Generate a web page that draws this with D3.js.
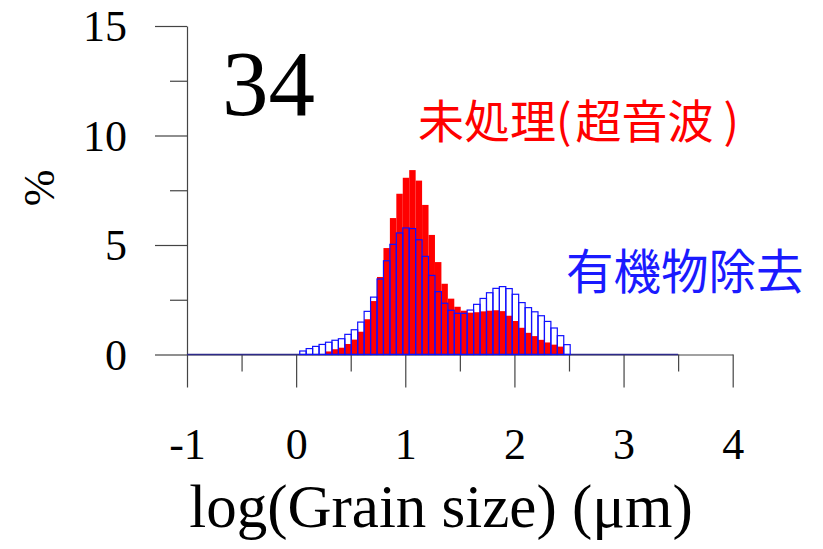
<!DOCTYPE html>
<html>
<head>
<meta charset="utf-8">
<script src="https://cdn.jsdelivr.net/npm/d3@7"></script>
<style>
  body { margin: 0; background: #fff; }
  svg { display: block; }
</style>
</head>
<body>
<svg id="chart" width="823" height="549"></svg>
<script>
// Histogram bins: left edge of each bin in log10(grain size / µm)
const binLeft = [
  0.033, 0.092, 0.151, 0.210, 0.269, 0.328, 0.387, 0.446, 0.505, 0.564,
  0.623, 0.682, 0.741, 0.800, 0.859, 0.918, 0.977, 1.036, 1.095, 1.154,
  1.213, 1.272, 1.331, 1.390, 1.449, 1.508, 1.567, 1.626, 1.685, 1.744,
  1.803, 1.862, 1.921, 1.980, 2.039, 2.098, 2.157, 2.216, 2.275, 2.334,
  2.393, 2.452
];
const binWidth = 0.059;

// 未処理(超音波): volume percent per bin
const untreated = [
  0, 0, 0, 0, 0.14, 0.24, 0.31, 0.48, 0.68, 1.04,
  1.61, 2.44, 3.54, 4.86, 6.23, 7.34, 8.07, 8.42, 7.94, 6.83,
  5.46, 4.22, 3.23, 2.55, 2.18, 2.00, 1.91, 1.93, 1.97, 2.00,
  2.02, 1.98, 1.77, 1.53, 1.22, 0.99, 0.84, 0.67, 0.55, 0.45,
  0.36, 0
];

// 有機物除去: volume percent per bin
const organicRemoved = [
  0.16, 0.27, 0.37, 0.46, 0.56, 0.65, 0.72, 0.92, 1.13, 1.48,
  1.97, 2.62, 3.45, 4.28, 5.03, 5.55, 5.78, 5.75, 5.24, 4.48,
  3.61, 2.87, 2.34, 2.02, 1.88, 1.88, 2.03, 2.29, 2.56, 2.82,
  3.02, 3.10, 3.01, 2.75, 2.37, 2.14, 1.95, 1.77, 1.51, 1.21,
  0.86, 0.45
];

// Full measured size range (empty bins outside the populated ones)
const histRange = [-1, 3.5];

const xTicks = [-1, 0, 1, 2, 3, 4];
const xMinorTicks = [-0.5, 0.5, 1.5, 2.5, 3.5];
const yTicks = [0, 5, 10, 15];
const yMinorTicks = [2.5, 7.5, 12.5];

const sampleLabel = "34";
const untreatedName = ["未処理(", "超音波", ")"];
const removedName = "有機物除去";
const xTitle = "log(Grain size) (\u03BCm)";
const yTitle = "%";

const serif = "'Liberation Serif', 'Times New Roman', Times, serif";
const cjk = "'Noto Sans CJK JP', 'Noto Sans', sans-serif";
const axisColor = "#444";

const svg = d3.select("#chart");

const x = d3.scaleLinear().domain([-1, 4]).range([187, 732.7]);
const y = d3.scaleLinear().domain([0, 15]).range([354.5, 26]);

// ---- axes ----
const xAxis = svg.append("g")
  .attr("transform", `translate(0,${y(0)})`)
  .call(d3.axisBottom(x).tickValues(xTicks).tickSize(33).tickSizeOuter(0)
    .tickPadding(40).tickFormat(d3.format("d")));
svg.append("g")
  .attr("transform", `translate(0,${y(0)})`)
  .call(d3.axisBottom(x).tickValues(xMinorTicks).tickSize(17).tickFormat(""))
  .call(g => g.select(".domain").remove());

const yAxis = svg.append("g")
  .attr("transform", `translate(${x(-1)},0)`)
  .call(d3.axisLeft(y).tickValues(yTicks).tickSize(32).tickSizeOuter(0)
    .tickPadding(28));
svg.append("g")
  .attr("transform", `translate(${x(-1)},0)`)
  .call(d3.axisLeft(y).tickValues(yMinorTicks).tickSize(17).tickFormat(""))
  .call(g => g.select(".domain").remove());

svg.selectAll(".domain, .tick line")
  .attr("stroke", axisColor).attr("stroke-width", 1.2);
svg.selectAll(".tick text")
  .attr("font-family", serif).attr("font-size", 44).attr("fill", "#000");
yAxis.selectAll(".tick text").attr("dy", "0.34em");
xAxis.selectAll(".tick text").text(d => d < 0 ? "-" + Math.abs(d) : d);

// ---- histogram bars ----
const bins = binLeft.map((b, i) => ({
  x0: b, x1: b + binWidth, untreated: untreated[i], removed: organicRemoved[i]
}));

svg.append("g").selectAll("rect")
  .data(bins)
  .join("rect")
  .attr("x", d => x(d.x0))
  .attr("width", d => x(d.x1) - x(d.x0))
  .attr("y", d => y(d.untreated))
  .attr("height", d => y(0) - y(d.untreated))
  .attr("fill", "#ff0000");

// empty bins across the measured range
svg.append("line")
  .attr("x1", x(histRange[0])).attr("x2", x(histRange[1]))
  .attr("y1", y(0)).attr("y2", y(0))
  .attr("stroke", "#2e2a8a").attr("stroke-width", 1.6);

svg.append("g").selectAll("rect")
  .data(bins)
  .join("rect")
  .attr("x", d => x(d.x0))
  .attr("width", d => x(d.x1) - x(d.x0))
  .attr("y", d => y(d.removed))
  .attr("height", d => y(0) - y(d.removed))
  .attr("fill", "none")
  .attr("stroke", "#1010ff")
  .attr("stroke-width", 1.2);

// ---- labels ----
svg.append("text")
  .attr("x", 222).attr("y", 115)
  .attr("font-family", serif).attr("font-size", 93)
  .text(sampleLabel);

const redLabel = svg.append("text")
  .attr("x", 418).attr("y", 118)
  .attr("dominant-baseline", "central")
  .attr("font-family", cjk).attr("font-size", 46)
  .attr("fill", "#ff0000");
redLabel.append("tspan").text(untreatedName[0]);
redLabel.append("tspan").attr("dx", 4).text(untreatedName[1]);
redLabel.append("tspan").attr("dx", 10).text(untreatedName[2]);

svg.append("text")
  .attr("x", 566).attr("y", 268)
  .attr("dominant-baseline", "central")
  .attr("font-family", cjk).attr("font-size", 47.5)
  .attr("fill", "#1a1aff")
  .text(removedName);

svg.append("text")
  .attr("x", 441).attr("y", 527)
  .attr("text-anchor", "middle")
  .attr("font-family", serif).attr("font-size", 61)
  .text(xTitle);

svg.append("text")
  .attr("transform", "translate(54,188) rotate(-90)")
  .attr("text-anchor", "middle")
  .attr("font-family", serif).attr("font-size", 44)
  .text(yTitle);
</script>
</body>
</html>
